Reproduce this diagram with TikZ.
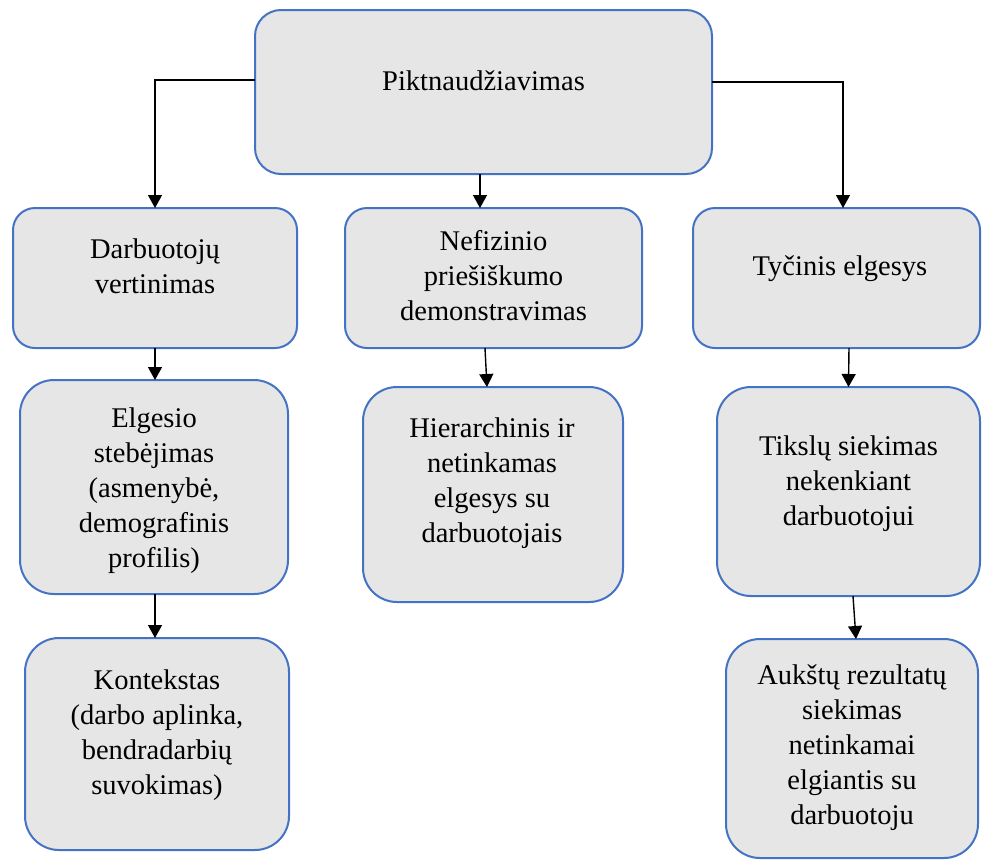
\documentclass[tikz,border=0pt]{standalone}
\usepackage{fontspec}
\setmainfont{Liberation Serif}
\usetikzlibrary{arrows.meta}
\definecolor{boxfill}{RGB}{230,230,230}
\definecolor{boxline}{RGB}{68,114,196}
\begin{document}
\begin{tikzpicture}[x=0.5pt,y=-0.5pt,
  box/.style={draw=boxline, line width=1pt, fill=boxfill, inner sep=0pt, outer sep=0pt},
  txt/.style={align=center, font=\fontsize{14.25}{17.5}\selectfont, inner sep=0pt},
  arr/.style={draw=black, line width=0.7pt, -{Triangle[width=7pt,length=6.5pt]}}]
\useasboundingbox (0,0) rectangle (982,859);
% boxes
\node[box, minimum width=228.5pt, minimum height=82pt, rounded corners=13pt] (top) at (483.5,92) {};
\node[box, minimum width=142pt, minimum height=70pt, rounded corners=11pt] (A) at (155,278) {};
\node[box, minimum width=148.5pt, minimum height=70pt, rounded corners=11pt] (B) at (493.5,278) {};
\node[box, minimum width=143.5pt, minimum height=70pt, rounded corners=11pt] (C) at (836.5,278) {};
\node[box, minimum width=134pt, minimum height=107pt, rounded corners=17pt] (A2) at (154,487) {};
\node[box, minimum width=132pt, minimum height=106pt, rounded corners=17pt] (A3) at (157,744) {};
\node[box, minimum width=130pt, minimum height=107.5pt, rounded corners=17pt] (B2) at (493,494.5) {};
\node[box, minimum width=131.5pt, minimum height=104.5pt, rounded corners=17pt] (C2) at (848.5,491.5) {};
\node[box, minimum width=126pt, minimum height=109.5pt, rounded corners=17pt] (C3) at (852,748.5) {};
% texts
\node[txt] (topt) at (483.5,81) {Piktnaudžiavimas};
\node[txt] (At) at (155,266) {Darbuotojų\\vertinimas};
\node[txt] (Bt) at (493.5,275.5) {Nefizinio\\priešiškumo\\demonstravimas};
\node[txt] (Ct) at (840,268.5) {Tyčinis elgesys};
\node[txt] (A2t) at (154,490.5) {Elgesio\\stebėjimas\\(asmenybė,\\demografinis\\profilis)};
\node[txt] (A3t) at (157,735) {Kontekstas\\(darbo aplinka,\\bendradarbių\\suvokimas)};
\node[txt] (B2t) at (492,483.5) {Hierarchinis ir\\netinkamas\\elgesys su\\darbuotojais};
\node[txt] (C2t) at (848.5,483.5) {Tikslų siekimas\\nekenkiant\\darbuotojui};
\node[txt] (C3t) at (852,747.5) {Aukštų rezultatų\\siekimas\\netinkamai\\elgiantis su\\darbuotoju};
% connectors
\draw[arr] ([yshift=6pt]top.west) -| (A.north);
\draw[arr] ([yshift=5pt]top.east) -| ([xshift=3.25pt]C.north);
\draw[arr] ([xshift=-1.75pt]top.south) -- ([xshift=-1.75pt]top.south |- B.north);
\draw[arr] (A.south) -- (A.south |- A2.north);
\draw[arr] ([xshift=0.5pt]A2.south) -- ([xshift=0.5pt]A2.south |- A3.north);
\draw[arr] ([xshift=-4.25pt]B.south) -- ([xshift=-3pt]B2.north);
\draw[arr] ([xshift=6.25pt]C.south) -- (C2.north);
\draw[arr] ([xshift=2.25pt]C2.south) -- ([xshift=2pt]C3.north);
\end{tikzpicture}
\end{document}
